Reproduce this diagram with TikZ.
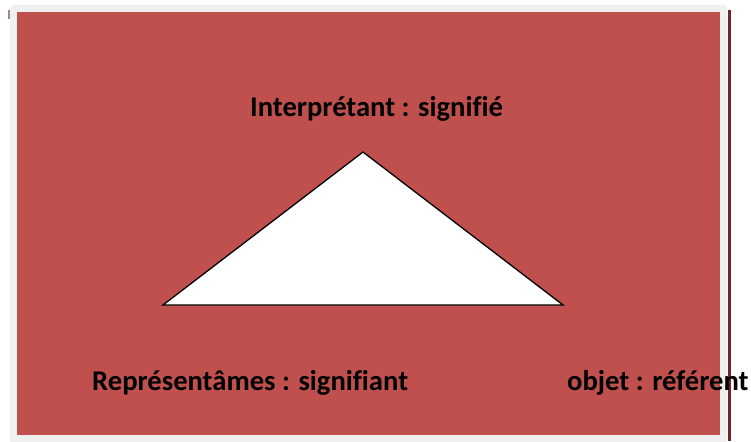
\documentclass[tikz,border=0pt]{standalone}
\usepackage{fontspec}
\setmainfont[Ligatures=CommonOff]{Carlito}
\definecolor{framegrey}{HTML}{F0F0F0}
\definecolor{panelred}{HTML}{C0504D}
\definecolor{darkline}{HTML}{6E2525}
\definecolor{mauvemark}{HTML}{A68585}
\begin{document}
\begin{tikzpicture}[x=1pt,y=-1pt,
  lbl/.style={font=\fontsize{28.6}{34}\selectfont\bfseries, inner sep=0pt, text=black},
  tri/.style={draw=black, fill=white, line width=1.3pt, line join=miter}]
\useasboundingbox (0,0) rectangle (751,441);
\fill[white] (0,0) rectangle (751,441);
% frame and panel
\fill[framegrey, rounded corners=4pt] (10,5) rectangle (727,445);
\fill[panelred] (17,12) rectangle (720,435);
\fill[mauvemark] (8,10) rectangle (10,19);
\fill[darkline] (727.5,10) rectangle (730.5,441);
% triangle
\coordinate (apex) at (363,152);
\coordinate (left) at (163,305);
\coordinate (right) at (563,305);
\draw[tri] (apex) -- (left) -- (right) -- cycle;
% labels
\node[lbl, anchor=base west] (interp) at (250,117) {Interprétant : signifié};
\node[lbl, anchor=base west] (repr) at (92,390) {Représentâmes : signifiant};
\node[lbl, anchor=base west] (objet) at (567,390) {objet : référent};
\end{tikzpicture}
\end{document}
